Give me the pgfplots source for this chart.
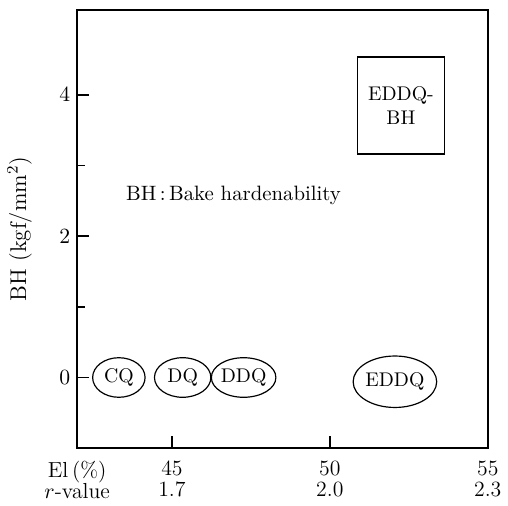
\documentclass[border=0pt]{standalone}
\usepackage{pgfplots}
\pgfplotsset{compat=1.18}
\usetikzlibrary{shapes.geometric}
\begin{document}
\begin{tikzpicture}
\begin{axis}[
  scale only axis,
  width=207.5pt, height=221.5pt,
  xmin=42, xmax=55, ymin=-1, ymax=5.2,
  axis line style={line width=0.85pt},
  tick style={line width=0.85pt, black},
  tick align=inside,
  major tick length=6pt, minor tick length=4pt,
  xtick pos=lower, ytick pos=left,
  xtick={42,45,50,55},
  xticklabels={El\,(\%)\\$r$-value, 45\\1.7, 50\\2.0, 55\\2.3},
  xticklabel style={align=center, font=\fontsize{11}{10.5}\selectfont, yshift=-3pt},
  yticklabel style={font=\fontsize{11}{13}\selectfont},
  ytick={0,2,4}, minor ytick={1,3},
  ylabel={BH (kgf/mm$^2$)},
  ylabel style={at={(axis description cs:-0.14,0.5)}, anchor=center, font=\fontsize{11.5}{14}\selectfont},
  clip=false,
]
\addplot[only marks, mark=none, nodes near coords={CQ}, nodes near coords align={center},
  every node near coord/.append style={ellipse, draw, line width=0.6pt, minimum width=26.5pt, minimum height=20pt, inner sep=0pt, anchor=center}]
  coordinates {(43.32,0)};
\addplot[only marks, mark=none, nodes near coords={DQ}, nodes near coords align={center},
  every node near coord/.append style={ellipse, draw, line width=0.6pt, minimum width=28.5pt, minimum height=20pt, inner sep=0pt, anchor=center}]
  coordinates {(45.34,0)};
\addplot[only marks, mark=none, nodes near coords={DDQ}, nodes near coords align={center},
  every node near coord/.append style={ellipse, draw, line width=0.6pt, minimum width=29.5pt, minimum height=20pt, inner sep=0pt, anchor=center}]
  coordinates {(47.27,0)};
\addplot[only marks, mark=none, nodes near coords={EDDQ}, nodes near coords align={center},
  every node near coord/.append style={ellipse, draw, line width=0.6pt, minimum width=38.5pt, minimum height=26pt, inner sep=0pt, anchor=center}]
  coordinates {(52.06,-0.06)};
\addplot[only marks, mark=none, nodes near coords={EDDQ-\\BH}, nodes near coords align={center},
  every node near coord/.append style={rectangle, draw, line width=0.75pt, align=center, minimum width=44pt, minimum height=49pt, inner sep=0pt, anchor=center}]
  coordinates {(52.25,3.85)};
\node[font=\fontsize{10.5}{12}\selectfont] at (axis cs:46.95,2.58) {BH\,:\,Bake hardenability};
\end{axis}
\path (current axis.south west) ++(-39pt,-27.5pt) rectangle ++(252pt,254pt);
\end{tikzpicture}
\end{document}
